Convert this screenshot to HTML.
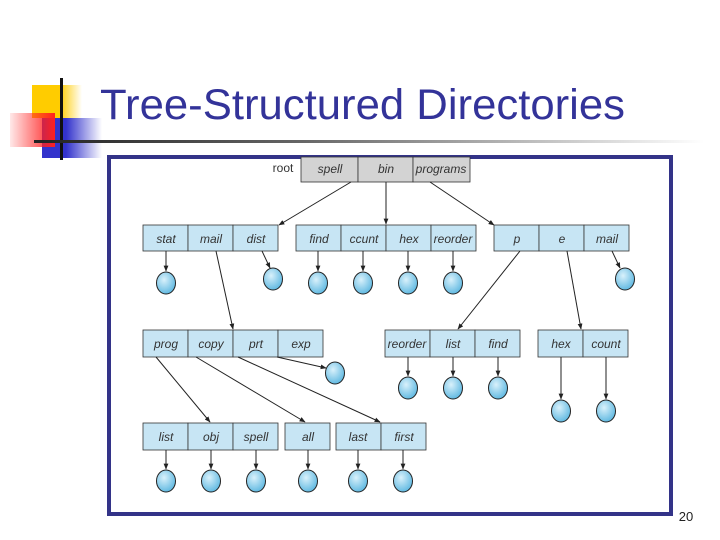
<!DOCTYPE html>
<html><head><meta charset="utf-8"><style>
html,body{margin:0;padding:0;background:#fff;width:720px;height:540px;overflow:hidden}
svg{display:block}
</style></head><body>
<svg width="720" height="540" viewBox="0 0 720 540" xmlns="http://www.w3.org/2000/svg">
<defs>
<linearGradient id="gy" x1="0" x2="1"><stop offset="0" stop-color="#ffcc00"/><stop offset="0.55" stop-color="#ffcc00"/><stop offset="1" stop-color="#ffcc00" stop-opacity="0"/></linearGradient>
<linearGradient id="gb" x1="0" x2="1"><stop offset="0" stop-color="#3333cc"/><stop offset="0.4" stop-color="#3333cc"/><stop offset="1" stop-color="#3333cc" stop-opacity="0"/></linearGradient>
<linearGradient id="gr" x1="1" x2="0"><stop offset="0" stop-color="#ff2020"/><stop offset="1" stop-color="#ff2020" stop-opacity="0.1"/></linearGradient>
<linearGradient id="gl" x1="0" x2="1"><stop offset="0" stop-color="#222"/><stop offset="0.4" stop-color="#666"/><stop offset="1" stop-color="#fff"/></linearGradient>
<radialGradient id="gc" cx="0.4" cy="0.35" r="0.7"><stop offset="0" stop-color="#d9f1fb"/><stop offset="1" stop-color="#5ab6e0"/></radialGradient>
<marker id="ah" viewBox="0 0 10 10" refX="9" refY="5" markerWidth="6" markerHeight="6" orient="auto"><path d="M0,1 L10,5 L0,9 z" fill="#222"/></marker>
</defs>
<rect x="32" y="85" width="50" height="33" fill="url(#gy)"/>
<rect x="42" y="118" width="60" height="40" fill="url(#gb)"/>
<rect x="10" y="113" width="45" height="34" fill="url(#gr)"/>
<rect x="60" y="78" width="3" height="82" fill="#111"/>
<rect x="34" y="140" width="670" height="3" fill="url(#gl)"/>
<text x="100" y="119" font-family="Liberation Sans, sans-serif" font-size="43" fill="#333399" textLength="525" lengthAdjust="spacingAndGlyphs">Tree-Structured Directories</text>
<rect x="109" y="157" width="562" height="357" fill="none" stroke="#333388" stroke-width="4"/>
<text x="686" y="521" font-family="Liberation Sans, sans-serif" font-size="13" fill="#222" text-anchor="middle">20</text>
<g font-family="Liberation Sans, sans-serif" font-size="12" font-style="italic" fill="#333" text-anchor="middle" stroke="#333" stroke-width="0.8">
<text x="283" y="172" font-style="normal" stroke="none">root</text>
<g fill="#d3d3d3"><rect x="301" y="157" width="57" height="25"/><rect x="358" y="157" width="55" height="25"/><rect x="413" y="157" width="57" height="25"/></g>
<g fill="#c7e5f4">
<rect x="143" y="225" width="45" height="26"/><rect x="188" y="225" width="45" height="26"/><rect x="233" y="225" width="45" height="26"/>
<rect x="296" y="225" width="45" height="26"/><rect x="341" y="225" width="45" height="26"/><rect x="386" y="225" width="45" height="26"/><rect x="431" y="225" width="45" height="26"/>
<rect x="494" y="225" width="45" height="26"/><rect x="539" y="225" width="45" height="26"/><rect x="584" y="225" width="45" height="26"/>
<rect x="143" y="330" width="45" height="27"/><rect x="188" y="330" width="45" height="27"/><rect x="233" y="330" width="45" height="27"/><rect x="278" y="330" width="45" height="27"/>
<rect x="385" y="330" width="45" height="27"/><rect x="430" y="330" width="45" height="27"/><rect x="475" y="330" width="45" height="27"/>
<rect x="538" y="330" width="45" height="27"/><rect x="583" y="330" width="45" height="27"/>
<rect x="143" y="423" width="45" height="27"/><rect x="188" y="423" width="45" height="27"/><rect x="233" y="423" width="45" height="27"/>
<rect x="285" y="423" width="45" height="27"/>
<rect x="336" y="423" width="45" height="27"/><rect x="381" y="423" width="45" height="27"/>
</g>
<g stroke="none">
<text x="330" y="173">spell</text><text x="386" y="173">bin</text><text x="441" y="173">programs</text>
<text x="166" y="243">stat</text><text x="211" y="243">mail</text><text x="256" y="243">dist</text>
<text x="319" y="243">find</text><text x="364" y="243">ccunt</text><text x="409" y="243">hex</text><text x="453" y="243">reorder</text>
<text x="517" y="243">p</text><text x="562" y="243">e</text><text x="607" y="243">mail</text>
<text x="166" y="348">prog</text><text x="211" y="348">copy</text><text x="256" y="348">prt</text><text x="301" y="348">exp</text>
<text x="407" y="348">reorder</text><text x="453" y="348">list</text><text x="498" y="348">find</text>
<text x="561" y="348">hex</text><text x="606" y="348">count</text>
<text x="166" y="441">list</text><text x="211" y="441">obj</text><text x="256" y="441">spell</text>
<text x="308" y="441">all</text><text x="358" y="441">last</text><text x="404" y="441">first</text>
</g>
</g>
<g fill="url(#gc)" stroke="#222" stroke-width="1">
<ellipse cx="166" cy="283" rx="9.5" ry="11"/><ellipse cx="273" cy="279" rx="9.5" ry="11"/><ellipse cx="318" cy="283" rx="9.5" ry="11"/><ellipse cx="363" cy="283" rx="9.5" ry="11"/><ellipse cx="408" cy="283" rx="9.5" ry="11"/><ellipse cx="453" cy="283" rx="9.5" ry="11"/><ellipse cx="625" cy="279" rx="9.5" ry="11"/>
<ellipse cx="335" cy="373" rx="9.5" ry="11"/><ellipse cx="408" cy="388" rx="9.5" ry="11"/><ellipse cx="453" cy="388" rx="9.5" ry="11"/><ellipse cx="498" cy="388" rx="9.5" ry="11"/><ellipse cx="561" cy="411" rx="9.5" ry="11"/><ellipse cx="606" cy="411" rx="9.5" ry="11"/>
<ellipse cx="166" cy="481" rx="9.5" ry="11"/><ellipse cx="211" cy="481" rx="9.5" ry="11"/><ellipse cx="256" cy="481" rx="9.5" ry="11"/><ellipse cx="308" cy="481" rx="9.5" ry="11"/><ellipse cx="358" cy="481" rx="9.5" ry="11"/><ellipse cx="403" cy="481" rx="9.5" ry="11"/>
</g>
<g stroke="#222" stroke-width="1" marker-end="url(#ah)" fill="none">
<line x1="351" y1="182" x2="279" y2="225"/><line x1="386" y1="182" x2="386" y2="224"/><line x1="430" y1="182" x2="494" y2="225"/>
<line x1="166" y1="251" x2="166" y2="271"/><line x1="216" y1="251" x2="233" y2="329"/><line x1="262" y1="251" x2="270" y2="268"/>
<line x1="318" y1="251" x2="318" y2="271"/><line x1="363" y1="251" x2="363" y2="271"/><line x1="408" y1="251" x2="408" y2="271"/><line x1="453" y1="251" x2="453" y2="271"/>
<line x1="520" y1="251" x2="458" y2="329"/><line x1="567" y1="251" x2="581" y2="329"/><line x1="612" y1="251" x2="620" y2="268"/>
<line x1="156" y1="357" x2="210" y2="422"/><line x1="196" y1="357" x2="305" y2="422"/><line x1="238" y1="357" x2="380" y2="422"/><line x1="277" y1="357" x2="326" y2="368"/>
<line x1="408" y1="357" x2="408" y2="376"/><line x1="453" y1="357" x2="453" y2="376"/><line x1="498" y1="357" x2="498" y2="376"/>
<line x1="561" y1="357" x2="561" y2="399"/><line x1="606" y1="357" x2="606" y2="399"/>
<line x1="166" y1="450" x2="166" y2="469"/><line x1="211" y1="450" x2="211" y2="469"/><line x1="256" y1="450" x2="256" y2="469"/><line x1="308" y1="450" x2="308" y2="469"/><line x1="358" y1="450" x2="358" y2="469"/><line x1="403" y1="450" x2="403" y2="469"/>
</g>
</svg>
</body></html>
